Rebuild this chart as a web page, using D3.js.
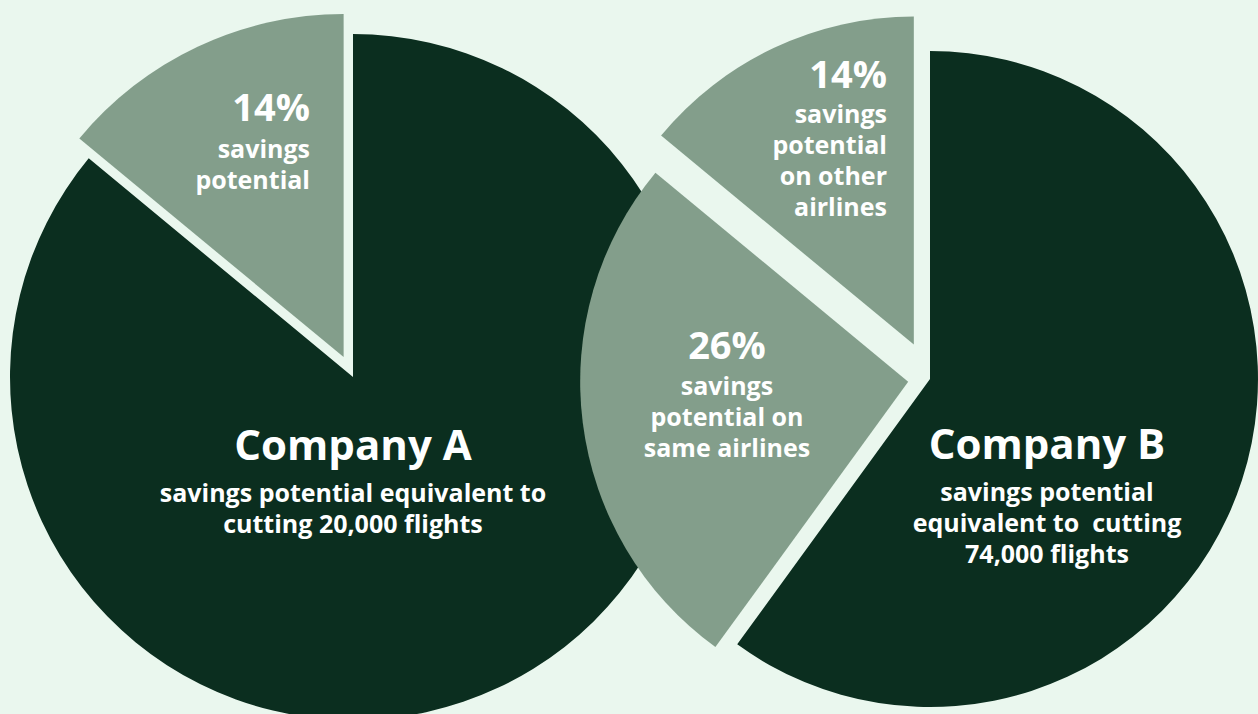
<!DOCTYPE html>
<html>
<head>
<meta charset="utf-8">
<script src="https://cdn.jsdelivr.net/npm/d3@7"></script>
<style>
  html, body { margin: 0; padding: 0; background: #eaf7ee; }
  svg { display: block; }
  text { font-family: "Open Sans", Lato, sans-serif; font-weight: 700; fill: #ffffff; font-variant-ligatures: none; }
</style>
</head>
<body>
<svg id="chart" width="1258" height="714"></svg>
<script>
// ---- data ----
const companies = ["Company A", "Company B"];
const sliceNamesA = ["remaining emissions", "savings potential"];
const valuesA = [86, 14];
const sliceNamesB = ["remaining emissions", "savings potential on same airlines", "savings potential on other airlines"];
const valuesB = [60, 26, 14];
const flightsCut = ["20,000", "74,000"];
const pctLabelsA = ["14%"];
const pctLabelsB = ["26%", "14%"];
const subLinesA = ["savings potential equivalent to", "cutting " + flightsCut[0] + " flights"];
const subLinesB = ["savings potential", "equivalent to\u00a0 cutting", flightsCut[1] + " flights"];
const sliceTextA = ["savings", "potential"];
const sliceTextB26 = ["savings", "potential on", "same airlines"];
const sliceTextB14 = ["savings", "potential", "on other", "airlines"];

// ---- style ----
const DARK = "#0b2e1f", LIGHT = "#839e8b";
const svg = d3.select("#chart");

const pie = d3.pie().sort(null).value(d => d);

function drawPie(cx, cy, r, values, explode) {
  const g = svg.append("g").attr("transform", `translate(${cx},${cy})`);
  const arc = d3.arc().innerRadius(0).outerRadius(r);
  const arcs = pie(values);
  g.selectAll("path").data(arcs).enter().append("path")
    .attr("d", arc)
    .attr("fill", (d, i) => i === 0 ? DARK : LIGHT)
    .attr("transform", (d, i) => {
      const a = (d.startAngle + d.endAngle) / 2;
      const e = explode[i];
      return `translate(${Math.sin(a) * e},${-Math.cos(a) * e})`;
    });
  return g;
}

function lines(x, y0, step, arr, size, anchor) {
  arr.forEach((s, i) => {
    svg.append("text").attr("text-anchor", anchor).attr("font-size", size)
      .attr("x", x).attr("y", y0 + i * step).text(s);
  });
}

// Company A pie
drawPie(353, 377, 343, valuesA, [0, 22]);
// Company B pie (drawn over A)
drawPie(930, 379, 328, valuesB, [0, 22, 38]);

// Company A slice labels
svg.append("text").attr("x", 310).attr("y", 121).attr("text-anchor", "end")
  .attr("font-size", 38).text(pctLabelsA[0]);
lines(310, 158, 31, sliceTextA, 25, "end");

// Company B 14% slice labels
svg.append("text").attr("x", 887).attr("y", 88).attr("text-anchor", "end")
  .attr("font-size", 38).text(pctLabelsB[1]);
lines(887, 123, 31, sliceTextB14, 25, "end");

// Company B 26% slice labels
svg.append("text").attr("x", 727).attr("y", 359).attr("text-anchor", "middle")
  .attr("font-size", 38).text(pctLabelsB[0]);
lines(727, 395, 31, sliceTextB26, 25, "middle");

// Company titles
svg.append("text").attr("x", 353).attr("y", 460).attr("text-anchor", "middle")
  .attr("font-size", 42).text(companies[0]);
lines(353, 502, 31, subLinesA, 25, "middle");

svg.append("text").attr("x", 1047).attr("y", 459).attr("text-anchor", "middle")
  .attr("font-size", 42).text(companies[1]);
lines(1047, 501, 31, subLinesB, 25, "middle");
</script>
</body>
</html>
